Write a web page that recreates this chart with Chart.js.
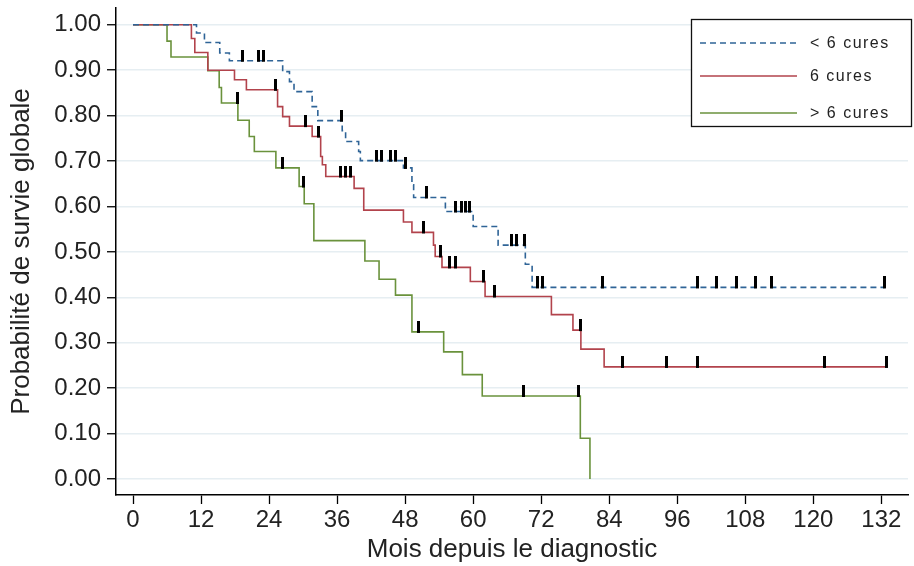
<!DOCTYPE html>
<html>
<head>
<meta charset="utf-8">
<script src="https://cdn.jsdelivr.net/npm/chart.js@4.4.3/dist/chart.umd.min.js"></script>
<style>
  html, body { margin: 0; padding: 0; background: #fff; }
  #wrap { width: 914px; height: 566px; position: relative; }
</style>
</head>
<body>
<div id="wrap"><canvas id="km"></canvas></div>
<script>
// axis ticks
const xTicks = [0, 12, 24, 36, 48, 60, 72, 84, 96, 108, 120, 132];
const yTicks = [0, 0.1, 0.2, 0.3, 0.4, 0.5, 0.6, 0.7, 0.8, 0.9, 1.0];

const seriesLabels = ['< 6 cures', '6 cures', '> 6 cures'];

// < 6 cures : event times (months) and survival after each step
const lessTimes = [0, 11.2, 12.6, 15.3, 17.0, 26.4, 27.6, 28.4, 31.6, 32.6, 36.9, 37.5, 39.8, 40.1, 47.7, 49.2, 49.5, 55.1, 60.0, 64.4, 69.2, 70.4, 132.6];
const lessSurv  = [1, 0.982, 0.961, 0.938, 0.921, 0.897, 0.875, 0.853, 0.82, 0.789, 0.767, 0.743, 0.721, 0.701, 0.685, 0.648, 0.62, 0.589, 0.556, 0.515, 0.473, 0.422, 0.422];
const lessCensored = [19.4, 22.2, 23.1, 36.7, 43.0, 43.9, 45.4, 46.3, 48.0, 51.8, 56.8, 57.9, 58.6, 59.4, 66.8, 67.6, 69.0, 71.4, 72.3, 82.9, 99.6, 103.0, 106.5, 109.8, 112.7, 132.6];

// 6 cures
const sixTimes = [0, 10.3, 10.9, 13.2, 17.9, 20.0, 25.5, 26.4, 27.6, 31.6, 33.1, 33.4, 34.0, 39.0, 40.7, 47.7, 49.2, 53.0, 53.3, 54.5, 59.5, 62.1, 73.8, 77.6, 79.0, 83.1, 132.9];
const sixSurv  = [1, 0.97, 0.939, 0.90, 0.879, 0.857, 0.82, 0.798, 0.777, 0.754, 0.71, 0.692, 0.666, 0.64, 0.592, 0.566, 0.543, 0.515, 0.49, 0.466, 0.435, 0.402, 0.362, 0.328, 0.286, 0.247, 0.247];
const sixCensored = [25.2, 30.5, 32.8, 36.6, 37.5, 38.4, 51.3, 54.3, 55.9, 56.8, 61.8, 63.8, 78.9, 86.4, 94.1, 99.6, 122.0, 132.9];

// > 6 cures
const moreTimes = [0, 6.0, 6.7, 13.2, 15.2, 15.6, 18.5, 20.5, 21.4, 25.2, 29.3, 30.2, 31.9, 40.9, 43.4, 46.3, 49.2, 54.8, 58.1, 61.6, 78.9, 80.6];
const moreSurv  = [1, 0.964, 0.929, 0.899, 0.862, 0.828, 0.79, 0.754, 0.721, 0.685, 0.644, 0.606, 0.525, 0.48, 0.44, 0.405, 0.324, 0.28, 0.23, 0.183, 0.09, 0];
const moreCensored = [18.4, 26.4, 30.1, 50.4, 68.9, 78.5];

const lineColors = ['#2f6497', '#b2434c', '#6a923c'];

function toPoints(times, surv) {
  return times.map((t, i) => ({ x: t, y: surv[i] }));
}

// survival level of the curve at time t (value of last step <= t)
function survAt(times, surv, t) {
  let s = surv[0];
  for (let i = 0; i < times.length; i++) {
    if (times[i] <= t) s = surv[i];
  }
  return s;
}

function censorPoints(times, surv, cens) {
  return cens.map(t => ({ x: t, y: survAt(times, surv, t) }));
}

// censor tick: black bar standing on the curve
const tick = document.createElement('canvas');
tick.width = 3;
tick.height = 22;
const tctx = tick.getContext('2d');
tctx.fillStyle = '#000';
tctx.fillRect(0, 0, 3, 12);

function stepSet(label, times, surv, color, dash) {
  return {
    type: 'line', label, data: toPoints(times, surv),
    borderColor: color, backgroundColor: color, borderWidth: 1.6,
    borderDash: dash, stepped: 'before', pointRadius: 0, fill: false, order: 2
  };
}
function censSet(times, surv, cens) {
  return {
    type: 'scatter', label: '', data: censorPoints(times, surv, cens),
    pointStyle: tick, pointRadius: 5, order: 1
  };
}

// legend box drawn in the upper right corner
const boxLegend = {
  id: 'boxLegend',
  afterDatasetsDraw(chart) {
    const ctx = chart.ctx;
    const x0 = 691.5, y0 = 19.5, w = 220, h = 107;
    ctx.save();
    ctx.fillStyle = '#fff';
    ctx.fillRect(x0, y0, w, h);
    ctx.strokeStyle = '#111';
    ctx.lineWidth = 1.3;
    ctx.strokeRect(x0, y0, w, h);
    const rows = [43, 76, 113];
    const lines = chart.data.datasets.filter(d => d.type === 'line');
    lines.forEach((ds, i) => {
      ctx.strokeStyle = ds.borderColor;
      ctx.lineWidth = 1.6;
      ctx.setLineDash(ds.borderDash || []);
      ctx.beginPath();
      ctx.moveTo(700, rows[i]);
      ctx.lineTo(797, rows[i]);
      ctx.stroke();
      ctx.setLineDash([]);
      ctx.fillStyle = '#222';
      ctx.font = '16px "Liberation Sans", Arial, sans-serif';
      ctx.letterSpacing = '1.5px';
      ctx.textBaseline = 'middle';
      ctx.fillText(ds.label, 810, rows[i] + 1);
    });
    ctx.restore();
  }
};

const tickFont = { family: '"Liberation Sans", Arial, sans-serif', size: 24 };
const titleFont = { family: '"Liberation Sans", Arial, sans-serif', size: 26 };

new Chart(document.getElementById('km'), {
  type: 'line',
  data: {
    datasets: [
      stepSet(seriesLabels[0], lessTimes, lessSurv, lineColors[0], [6, 4]),
      stepSet(seriesLabels[1], sixTimes, sixSurv, lineColors[1], []),
      stepSet(seriesLabels[2], moreTimes, moreSurv, lineColors[2], []),
      censSet(lessTimes, lessSurv, lessCensored),
      censSet(sixTimes, sixSurv, sixCensored),
      censSet(moreTimes, moreSurv, moreCensored)
    ]
  },
  options: {
    responsive: true,
    maintainAspectRatio: false,
    animation: false,
    layout: { padding: { top: 8, right: 2, left: 0, bottom: 0 } },
    plugins: { legend: { display: false }, tooltip: { enabled: false } },
    scales: {
      x: {
        type: 'linear', min: -3, max: 136.7,
        afterFit: s => { s.height = 71; s.paddingLeft = 0; s.paddingRight = 0; },
        afterBuildTicks: s => { s.ticks = xTicks.map(v => ({ value: v })); },
        grid: { drawOnChartArea: false, drawTicks: true, tickLength: 9, tickColor: '#000', tickWidth: 1.3 },
        border: { color: '#000', width: 1.5 },
        ticks: { color: '#222', font: tickFont, padding: 2, maxRotation: 0, autoSkip: false },
        title: { display: true, text: 'Mois depuis le diagnostic', color: '#222',
                 font: titleFont, padding: { top: 0, bottom: 1 } }
      },
      y: {
        type: 'linear', min: -0.035, max: 1.037,
        afterFit: s => { s.width = 116; s.paddingTop = 0; s.paddingBottom = 0; },
        afterBuildTicks: s => { s.ticks = yTicks.map(v => ({ value: v })); },
        grid: { color: '#e6eef2', lineWidth: 1.5, drawTicks: true, tickLength: 9, tickColor: '#000', tickWidth: 1.3 },
        border: { color: '#000', width: 1.5 },
        ticks: { color: '#222', font: tickFont, padding: 6, callback: v => v.toFixed(2), autoSkip: false },
        title: { display: true, text: 'Probabilité de survie globale', color: '#222',
                 font: titleFont, padding: { top: 6, bottom: 0 } }
      }
    }
  },
  plugins: [boxLegend]
});
</script>
</body>
</html>
